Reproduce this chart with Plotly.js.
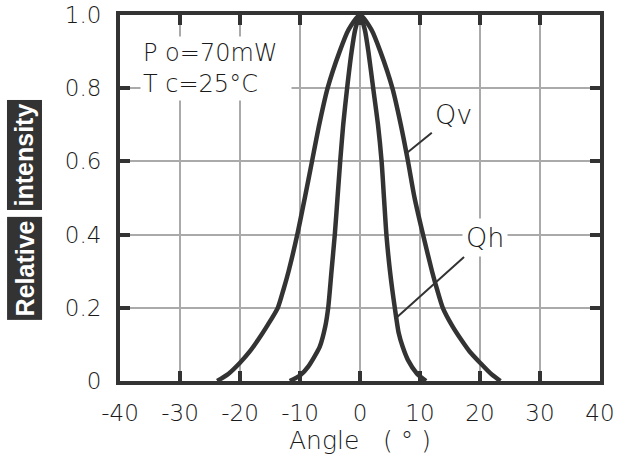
<!DOCTYPE html>
<html>
<head>
<meta charset="utf-8">
<script src="https://cdn.plot.ly/plotly-3.0.1.min.js"></script>
<style>html,body{margin:0;padding:0;background:#fff;}#chart{width:624px;height:457px;}</style>
</head>
<body>
<div id="chart"></div>
<script>
// Qv (wide beam)
const qvAngle = [-23.8, -21.9, -20.0, -18.4, -17.0, -15.5, -13.7, -12.75, -11.9, -10.45, -9.2, -8.0, -6.8, -5.4, -3.4, -1.9, 0, 1.9, 3.4, 5.4, 6.8, 8.0, 9.1, 10.5, 12.0, 12.85, 13.8, 15.4, 16.9, 18.3, 20.0, 21.8, 23.4];
const qvValue = [0, 0.02, 0.05, 0.08, 0.112, 0.15, 0.2, 0.25, 0.3, 0.4, 0.5, 0.6, 0.7, 0.8, 0.9, 0.96, 1.0, 0.96, 0.9, 0.8, 0.7, 0.6, 0.5, 0.4, 0.3, 0.25, 0.2, 0.15, 0.112, 0.08, 0.05, 0.02, 0];
// Qh (narrow beam)
const qhAngle = [-11.7, -10.0, -8.6, -6.7, -5.8, -5.3, -4.75, -4.2, -3.75, -3.3, -2.8, -2.15, -1.4, -0.8, 0, 0.8, 1.4, 2.2, 3.0, 3.6, 4.0, 4.4, 5.0, 5.8, 6.45, 7.1, 8.0, 9.5, 11.0];
const qhValue = [0, 0.015, 0.04, 0.094, 0.148, 0.2, 0.3, 0.4, 0.5, 0.6, 0.7, 0.8, 0.9, 0.96, 1.0, 0.96, 0.9, 0.8, 0.7, 0.6, 0.5, 0.4, 0.3, 0.2, 0.131, 0.094, 0.057, 0.02, 0];

const xTickVals = [-40, -30, -20, -10, 0, 10, 20, 30, 40];
const xTickText = ['-40', '-30', '-20', '-10', '0', '10', '20', '30', '40'];
const yTickVals = [0, 0.2, 0.4, 0.6, 0.8, 1.0];
const yTickText = ['0', '0.2', '0.4', '0.6', '0.8', '1.0'];

const ink = '#333333';
const txt = '#1a1a1a';
const fnt = '"DejaVu Sans", sans-serif';
const w = 200;

const lineStyle = {color: ink, width: 4.5, shape: 'spline', smoothing: 0.6};
const traces = [
  {x: qvAngle, y: qvValue, mode: 'lines', line: lineStyle, name: 'Qv', hoverinfo: 'skip', cliponaxis: false},
  {x: qhAngle, y: qhValue, mode: 'lines', line: lineStyle, name: 'Qh', hoverinfo: 'skip', cliponaxis: false}
];

const axisCommon = {
  ticks: 'inside', ticklen: 10, tickwidth: 4, tickcolor: ink,
  showline: true, linewidth: 4, linecolor: ink, mirror: 'ticks',
  showgrid: true, gridcolor: '#aaaaaa', gridwidth: 2, zeroline: false,
  tickfont: {family: fnt, size: 23, color: txt, weight: w}, fixedrange: true
};

const layout = {
  width: 624, height: 457,
  margin: {l: 120, r: 24, t: 15, b: 76},
  paper_bgcolor: '#fff', plot_bgcolor: '#fff',
  showlegend: false,
  xaxis: Object.assign({}, axisCommon, {
    range: [-40, 40], tickvals: xTickVals, ticktext: xTickText, ticklabelstandoff: 8,
    title: {text: 'Angle\u00a0\u00a0\u00a0(\u00a0°\u00a0)', font: {family: fnt, size: 25, color: txt, weight: w}, standoff: 0}
  }),
  yaxis: Object.assign({}, axisCommon, {
    range: [0, 1], tickvals: yTickVals, ticktext: yTickText, ticklabelstandoff: 10
  }),
  annotations: [
    {xref: 'paper', yref: 'paper', x: 0.042, y: 0.943, xanchor: 'left', yanchor: 'top',
     text: 'P o=70mW<br>T c=25°C', align: 'left', showarrow: false, width: 146,
     font: {family: fnt, size: 24, color: txt, weight: w}, bgcolor: '#fff', borderpad: 2},
    {x: 7.8, y: 0.623, ax: 47, ay: -38, text: 'Qv', showarrow: true, arrowhead: 0,
     arrowwidth: 2, arrowcolor: ink, font: {family: fnt, size: 27, color: txt, weight: w}, bgcolor: '#fff', borderpad: 3},
    {x: 6.2, y: 0.175, ax: 88, ay: -79, text: 'Qh', showarrow: true, arrowhead: 0,
     arrowwidth: 2, arrowcolor: ink, font: {family: fnt, size: 27, color: txt, weight: w}, bgcolor: '#fff', borderpad: 3},
    {xref: 'paper', yref: 'paper', x: -0.199, y: 0.6175, xanchor: 'center', yanchor: 'middle',
     text: '<b>intensity</b>', textangle: -90,
     showarrow: false, font: {family: '"Liberation Sans", Arial, sans-serif', size: 25, color: '#fff'},
     bgcolor: ink, borderpad: 3},
    {xref: 'paper', yref: 'paper', x: -0.199, y: 0.309, xanchor: 'center', yanchor: 'middle',
     text: '<b>Relative</b>', textangle: -90,
     showarrow: false, font: {family: '"Liberation Sans", Arial, sans-serif', size: 25, color: '#fff'},
     bgcolor: ink, borderpad: 3}
  ]
};

Plotly.newPlot('chart', traces, layout, {staticPlot: true, displayModeBar: false});
</script>
</body>
</html>
